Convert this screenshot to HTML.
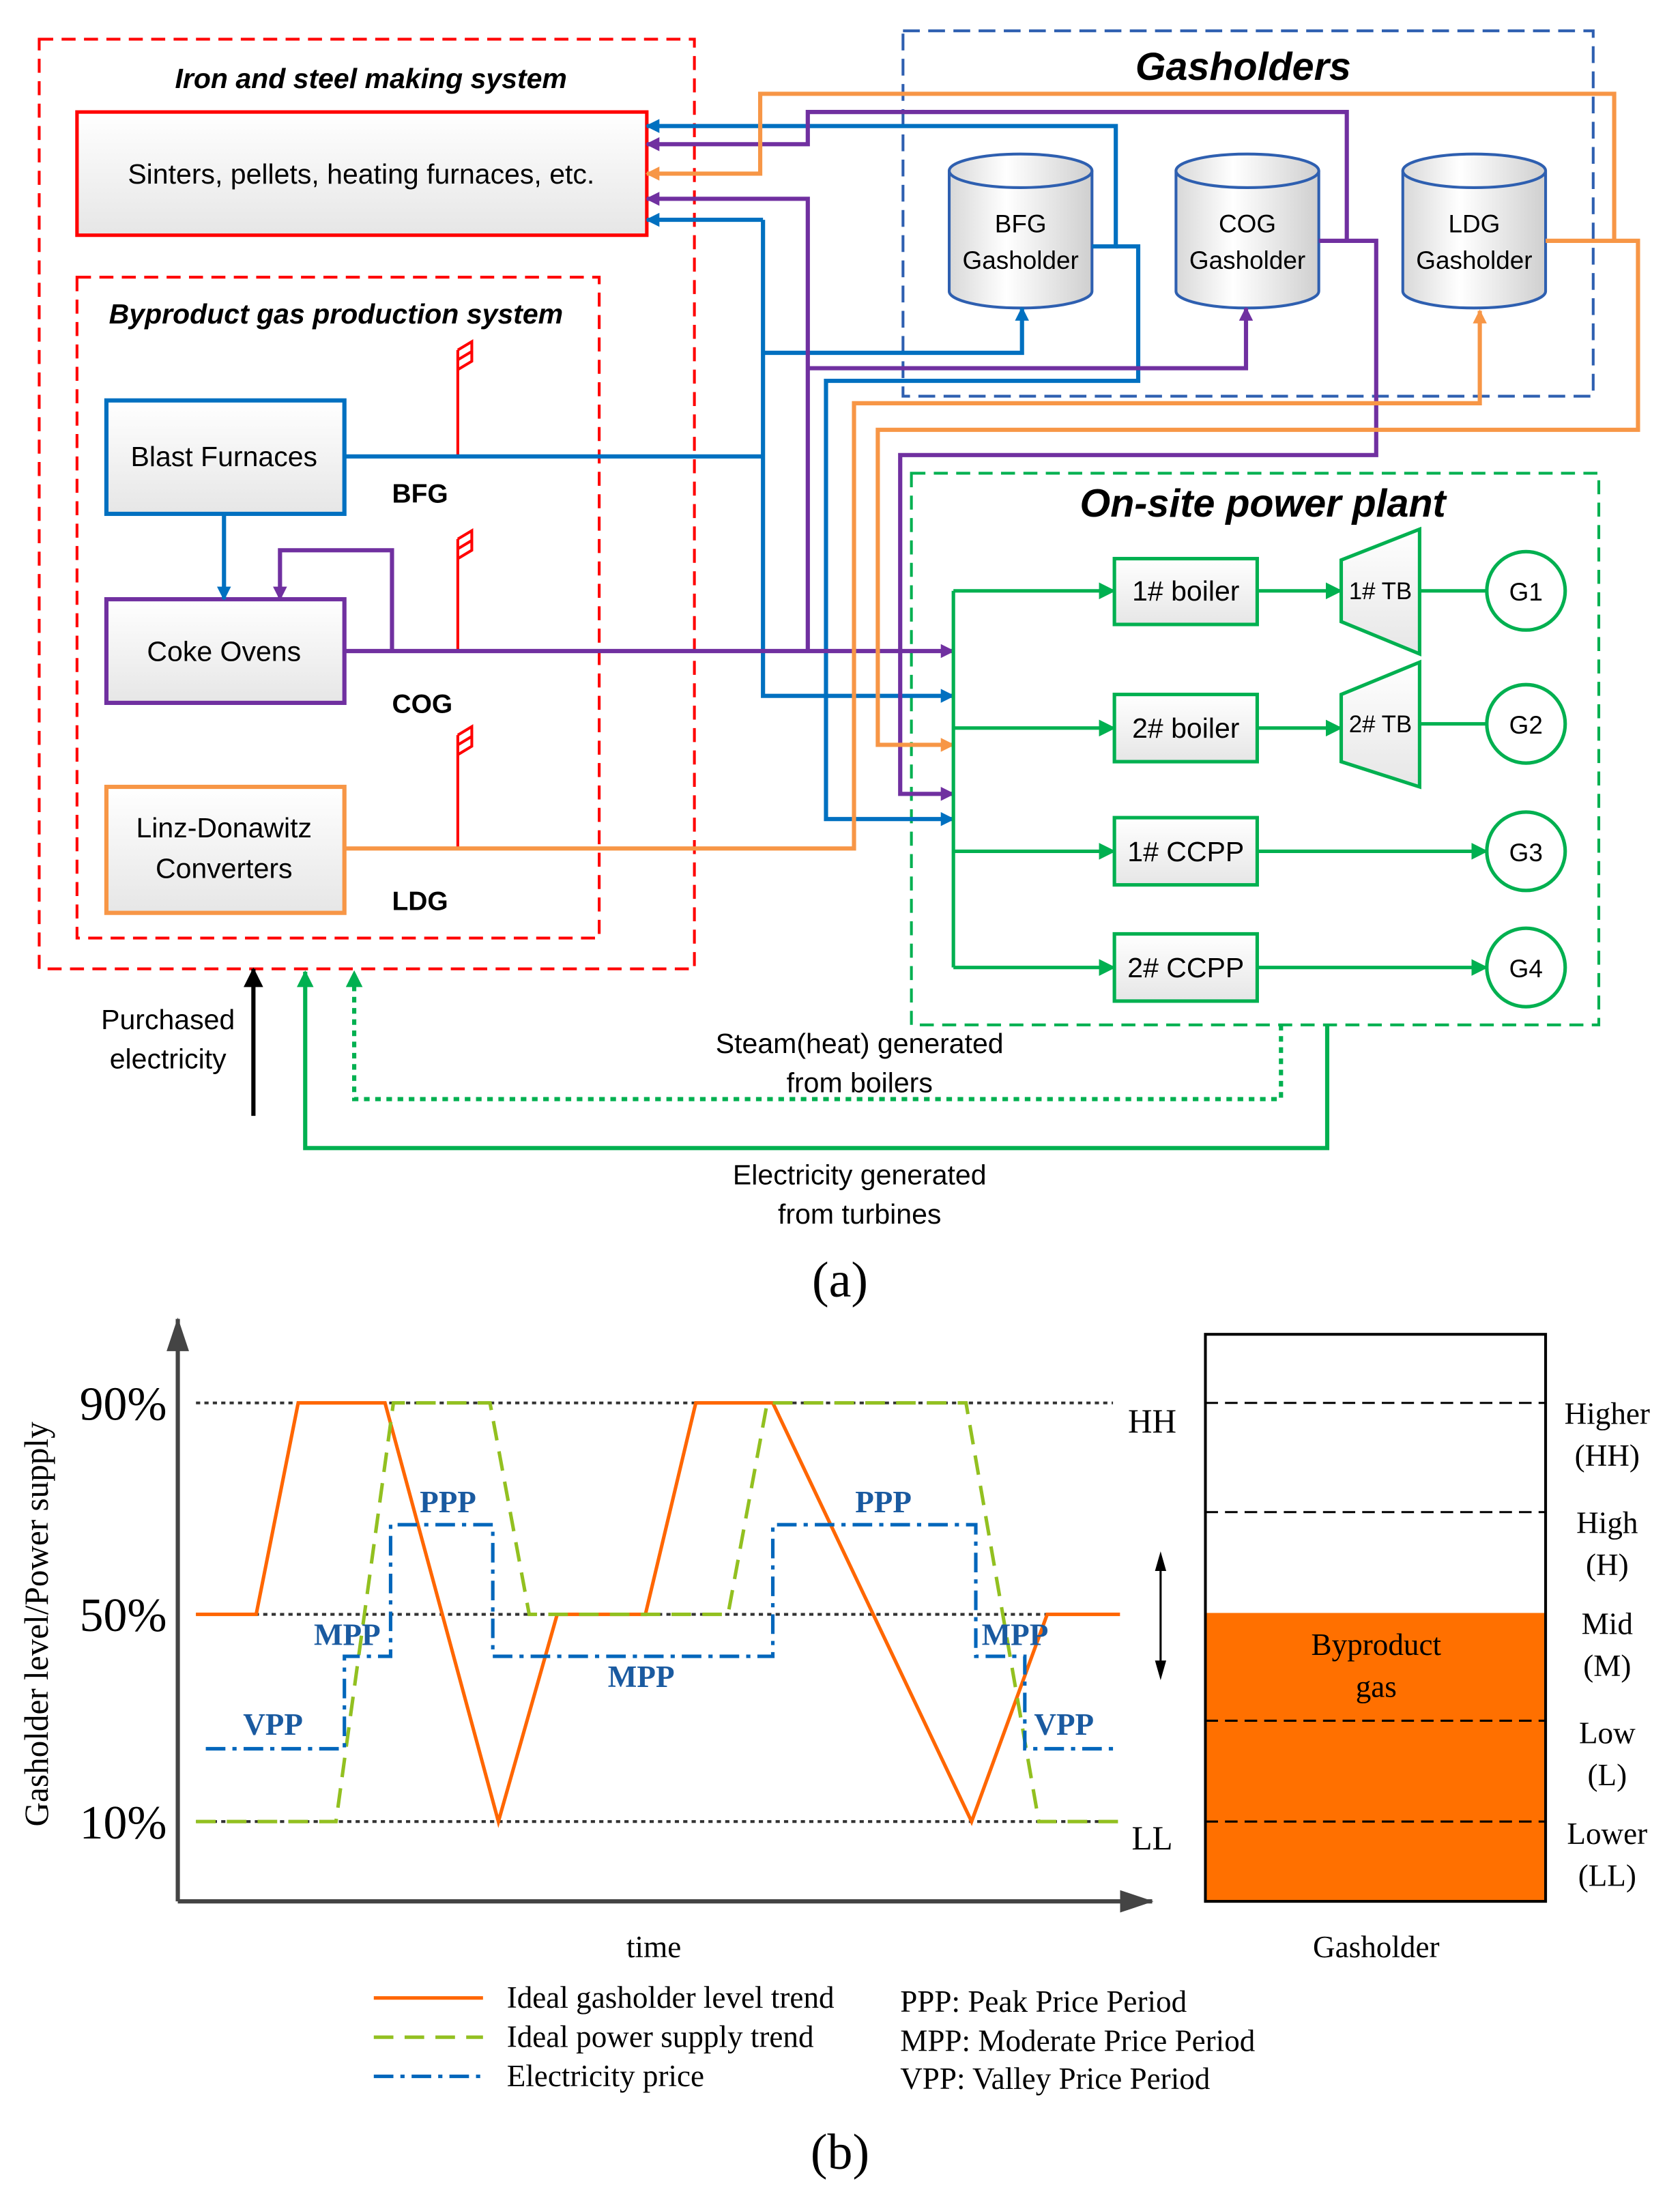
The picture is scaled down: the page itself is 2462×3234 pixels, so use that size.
<!DOCTYPE html>
<html><head><meta charset="utf-8"><style>html,body{margin:0;padding:0;background:#fff}svg{display:block}</style></head><body>
<svg width="2462" height="3234" viewBox="0 0 1200 1576.3" preserveAspectRatio="none" xmlns="http://www.w3.org/2000/svg">
<defs>
<linearGradient id="bx" x1="0" y1="0" x2="0" y2="1"><stop offset="0" stop-color="#fff"/><stop offset="1" stop-color="#e6e6e6"/></linearGradient>
<linearGradient id="cy" x1="0" y1="0" x2="1" y2="0"><stop offset="0" stop-color="#d8d8d8"/><stop offset="0.4" stop-color="#fff"/><stop offset="1" stop-color="#cfcfcf"/></linearGradient>
<marker id="ab" markerWidth="10" markerHeight="10" refX="9" refY="5" orient="auto" markerUnits="userSpaceOnUse"><path d="M0,0 L10,5 L0,10 z" fill="#0070c0"/></marker>
<marker id="ap" markerWidth="10" markerHeight="10" refX="9" refY="5" orient="auto" markerUnits="userSpaceOnUse"><path d="M0,0 L10,5 L0,10 z" fill="#7030a0"/></marker>
<marker id="ao" markerWidth="10" markerHeight="10" refX="9" refY="5" orient="auto" markerUnits="userSpaceOnUse"><path d="M0,0 L10,5 L0,10 z" fill="#f79646"/></marker>
<marker id="ag" markerWidth="12" markerHeight="12" refX="11" refY="6" orient="auto" markerUnits="userSpaceOnUse"><path d="M0,0 L12,6 L0,12 z" fill="#00b050"/></marker>
<marker id="ak" markerWidth="14" markerHeight="14" refX="13" refY="7" orient="auto" markerUnits="userSpaceOnUse"><path d="M0,0 L14,7 L0,14 z" fill="#000"/></marker>
<marker id="ax" markerWidth="24" markerHeight="16" refX="23" refY="8" orient="auto" markerUnits="userSpaceOnUse"><path d="M0,0 L24,8 L0,16 z" fill="#444"/></marker>
</defs>
<g font-family="Liberation Sans, sans-serif" font-size="20" fill="#000">
<!-- containers -->
<rect x="28" y="28" width="468" height="664" fill="none" stroke="#ff0000" stroke-width="2" stroke-dasharray="10,6"/>
<text x="265" y="63" text-anchor="middle" font-weight="bold" font-style="italic">Iron and steel making system</text>
<rect x="55" y="80" width="407" height="88" fill="url(#bx)" stroke="#ff0000" stroke-width="2.5"/>
<text x="258" y="131" text-anchor="middle">Sinters, pellets, heating furnaces, etc.</text>
<rect x="55" y="198" width="373" height="472" fill="none" stroke="#ff0000" stroke-width="2" stroke-dasharray="10,6"/>
<text x="240" y="231" text-anchor="middle" font-weight="bold" font-style="italic">Byproduct gas  production  system</text>
<rect x="76" y="286" width="170" height="81" fill="url(#bx)" stroke="#0070c0" stroke-width="3"/>
<text x="160" y="333" text-anchor="middle">Blast Furnaces</text>
<rect x="76" y="428" width="170" height="74" fill="url(#bx)" stroke="#7030a0" stroke-width="3"/>
<text x="160" y="472" text-anchor="middle">Coke Ovens</text>
<rect x="76" y="562" width="170" height="90" fill="url(#bx)" stroke="#f79646" stroke-width="3"/>
<text x="160" y="598" text-anchor="middle">Linz-Donawitz</text>
<text x="160" y="627" text-anchor="middle">Converters</text>
<rect x="645" y="22" width="493" height="261" fill="none" stroke="#2e5fb0" stroke-width="2" stroke-dasharray="12,6"/>
<text x="888" y="57" text-anchor="middle" font-weight="bold" font-style="italic" font-size="28">Gasholders</text>
<rect x="651" y="338" width="491" height="394" fill="none" stroke="#00b050" stroke-width="2" stroke-dasharray="10,6"/>
<text x="902" y="369" text-anchor="middle" font-weight="bold" font-style="italic" font-size="28">On-site power plant</text>
<!-- cylinders -->
<g stroke="#2e5fb0" stroke-width="2" fill="url(#cy)">
<path d="M678,122 L678,208 A51,12 0 0 0 780,208 L780,122 A51,12 0 0 0 678,122 Z"/><path d="M678,122 A51,12 0 0 0 780,122" fill="none"/>
<path d="M840,122 L840,208 A51,12 0 0 0 942,208 L942,122 A51,12 0 0 0 840,122 Z"/><path d="M840,122 A51,12 0 0 0 942,122" fill="none"/>
<path d="M1002,122 L1002,208 A51,12 0 0 0 1104,208 L1104,122 A51,12 0 0 0 1002,122 Z"/><path d="M1002,122 A51,12 0 0 0 1104,122" fill="none"/>
</g>
<g font-size="18" text-anchor="middle">
<text x="729" y="166">BFG</text><text x="729" y="192">Gasholder</text>
<text x="891" y="166">COG</text><text x="891" y="192">Gasholder</text>
<text x="1053" y="166">LDG</text><text x="1053" y="192">Gasholder</text>
</g>
<!-- flares -->
<g stroke="#ff0000" stroke-width="2" fill="none">
<path d="M327,326 V250 M327,250 L337,244 V258 L327,264 M327,257 L337,251"/>
<path d="M327,465 V385 M327,385 L337,379 V393 L327,399 M327,392 L337,386"/>
<path d="M327,606 V525 M327,525 L337,519 V533 L327,539 M327,532 L337,526"/>
</g>
<g font-weight="bold" font-size="19"><text x="280" y="359">BFG</text><text x="280" y="509">COG</text><text x="280" y="650">LDG</text></g>
<!-- blue -->
<g stroke="#0070c0" stroke-width="3" fill="none">
<path d="M246,326 H545"/><path d="M545,157 V497 H681" marker-end="url(#ab)"/>
<path d="M545,157 H462" marker-end="url(#ab)"/>
<path d="M545,252 H730 V220" marker-end="url(#ab)"/>
<path d="M780,176 H797 V90 H462" marker-end="url(#ab)"/>
<path d="M797,176 H813 V272 H590 V585 H681" marker-end="url(#ab)"/>
<path d="M160,367 V428" marker-end="url(#ab)"/>
</g>
<!-- purple -->
<g stroke="#7030a0" stroke-width="3" fill="none">
<path d="M246,465 H681" marker-end="url(#ap)"/>
<path d="M280,465 V393 H200 V428" marker-end="url(#ap)"/>
<path d="M577,465 V142 H462" marker-end="url(#ap)"/>
<path d="M577,263 H890 V220" marker-end="url(#ap)"/>
<path d="M942,172 H962 V80 H577 V103 H462" marker-end="url(#ap)"/>
<path d="M962,172 H983 V325 H643 V567 H681" marker-end="url(#ap)"/>
</g>
<!-- orange -->
<g stroke="#f79646" stroke-width="3" fill="none">
<path d="M246,606 H610 V288 H1057 V222" marker-end="url(#ao)"/>
<path d="M1104,172 H1170 V307 H627 V532 H681" marker-end="url(#ao)"/>
<path d="M1153,172 V67 H543 V124 H462" marker-end="url(#ao)"/>
</g>
<!-- power plant -->
<g stroke="#00b050" stroke-width="2.5" fill="none">
<path d="M681,422 V691"/>
<path d="M681,422 H796" marker-end="url(#ag)"/><path d="M681,520 H796" marker-end="url(#ag)"/>
<path d="M681,608 H796" marker-end="url(#ag)"/><path d="M681,691 H796" marker-end="url(#ag)"/>
<path d="M898,422 H958" marker-end="url(#ag)"/><path d="M898,520 H958" marker-end="url(#ag)"/>
<path d="M1014,422 H1062"/><path d="M1014,517 H1062"/>
<path d="M898,608 H1062" marker-end="url(#ag)"/><path d="M898,691 H1062" marker-end="url(#ag)"/>
</g>
<g stroke="#00b050" stroke-width="2.5" fill="url(#bx)">
<rect x="796" y="399" width="102" height="47"/><rect x="796" y="496" width="102" height="48"/>
<rect x="796" y="584" width="102" height="48"/><rect x="796" y="667" width="102" height="48"/>
<path d="M958,400 L1014,378 L1014,467 L958,444 Z"/><path d="M958,496 L1014,473 L1014,562 L958,544 Z"/>
<circle cx="1090" cy="422" r="28" fill="#fff"/><circle cx="1090" cy="517" r="28" fill="#fff"/>
<circle cx="1090" cy="608" r="28" fill="#fff"/><circle cx="1090" cy="691" r="28" fill="#fff"/>
</g>
<g text-anchor="middle">
<text x="847" y="429">1# boiler</text><text x="847" y="527">2# boiler</text>
<text x="847" y="615">1# CCPP</text><text x="847" y="698">2# CCPP</text>
<text x="986" y="428" font-size="17">1# TB</text><text x="986" y="523" font-size="17">2# TB</text>
<text x="1090" y="429" font-size="18">G1</text><text x="1090" y="524" font-size="18">G2</text>
<text x="1090" y="615" font-size="18">G3</text><text x="1090" y="698" font-size="18">G4</text>
</g>
<!-- bottom connectors -->
<path d="M181,797 V692" stroke="#000" stroke-width="3" marker-end="url(#ak)"/>
<text x="120" y="735" text-anchor="middle">Purchased</text><text x="120" y="763" text-anchor="middle">electricity</text>
<path d="M915,732 V785 H253 V694" stroke="#00b050" stroke-width="3" stroke-dasharray="4,4" fill="none" marker-end="url(#ag)"/>
<path d="M948,732 V820 H218 V694" stroke="#00b050" stroke-width="3" fill="none" marker-end="url(#ag)"/>
<text x="614" y="752" text-anchor="middle">Steam(heat) generated</text><text x="614" y="780" text-anchor="middle">from boilers</text>
<text x="614" y="846" text-anchor="middle">Electricity generated</text><text x="614" y="874" text-anchor="middle">from turbines</text>
</g>
<g font-family="Liberation Serif, serif" fill="#000">
<text x="600" y="926" text-anchor="middle" font-size="36">(a)</text>
<!-- chart -->
<path d="M127,1358 V942" stroke="#444" stroke-width="3" marker-end="url(#ax)" fill="none"/>
<path d="M127,1358 H823" stroke="#444" stroke-width="3" marker-end="url(#ax)" fill="none"/>
<g stroke="#333" stroke-width="2" stroke-dasharray="3,3"><path d="M140,1002 H795"/><path d="M140,1153 H795"/><path d="M140,1301 H795"/></g>
<g font-size="34" text-anchor="middle"><text x="88" y="1014">90%</text><text x="88" y="1165">50%</text><text x="88" y="1313">10%</text></g>
<text x="823" y="1023" text-anchor="middle" font-size="24">HH</text><text x="823" y="1321" text-anchor="middle" font-size="24">LL</text>
<text transform="translate(34,1160) rotate(-90)" text-anchor="middle" font-size="24">Gasholder level/Power supply</text>
<polyline points="140,1153 183,1153 213,1002 275,1002 356,1301 398,1153 461,1153 497,1002 552,1002 694,1301 748,1153 800,1153" fill="none" stroke="#ff6600" stroke-width="2.5"/>
<polyline points="140,1301 240,1301 281,1002 350,1002 378,1153 520,1153 548,1002 690,1002 742,1301 800,1301" fill="none" stroke="#92c020" stroke-width="2.5" stroke-dasharray="14,8"/>
<polyline points="147,1249 246,1249 246,1183 279,1183 279,1089 352,1089 352,1183 552,1183 552,1089 697,1089 697,1183 732,1183 732,1249 797,1249" fill="none" stroke="#0066bb" stroke-width="2.5" stroke-dasharray="14,5,3,5"/>
<g fill="#1a5aa0" font-weight="bold" font-size="22" text-anchor="middle">
<text x="320" y="1080">PPP</text><text x="631" y="1080">PPP</text>
<text x="248" y="1175">MPP</text><text x="458" y="1205">MPP</text><text x="725" y="1175">MPP</text>
<text x="195" y="1239">VPP</text><text x="760" y="1239">VPP</text>
</g>
<text x="467" y="1398" text-anchor="middle" font-size="22">time</text>
<rect x="861" y="1152" width="243" height="206" fill="#ff7000"/>
<rect x="861" y="953" width="243" height="405" fill="none" stroke="#000" stroke-width="2"/>
<g stroke="#000" stroke-width="1.5" stroke-dasharray="9,5"><path d="M861,1002 H1104"/><path d="M861,1080 H1104"/><path d="M861,1229 H1104"/><path d="M861,1301 H1104"/></g>
<text x="983" y="1182" text-anchor="middle" font-size="22">Byproduct</text><text x="983" y="1212" text-anchor="middle" font-size="22">gas</text>
<g font-size="22" text-anchor="middle">
<text x="1148" y="1017">Higher</text><text x="1148" y="1047">(HH)</text>
<text x="1148" y="1095">High</text><text x="1148" y="1125">(H)</text>
<text x="1148" y="1167">Mid</text><text x="1148" y="1197">(M)</text>
<text x="1148" y="1245">Low</text><text x="1148" y="1275">(L)</text>
<text x="1148" y="1317">Lower</text><text x="1148" y="1347">(LL)</text>
</g>
<path d="M829,1118 V1190" stroke="#000" stroke-width="1.5"/>
<path d="M825,1122 L829,1108 L833,1122 Z M825,1186 L829,1200 L833,1186 Z" fill="#000"/>
<text x="983" y="1398" text-anchor="middle" font-size="22">Gasholder</text>
<path d="M267,1427 H345" stroke="#ff6600" stroke-width="2.5"/>
<path d="M267,1455 H345" stroke="#92c020" stroke-width="2.5" stroke-dasharray="14,8"/>
<path d="M267,1483 H345" stroke="#0066bb" stroke-width="2.5" stroke-dasharray="14,5,3,5"/>
<g font-size="22"><text x="362" y="1434">Ideal gasholder level trend</text><text x="362" y="1462">Ideal power supply trend</text><text x="362" y="1490">Electricity price</text>
<text x="643" y="1437">PPP:  Peak Price Period</text><text x="643" y="1465">MPP:  Moderate Price Period</text><text x="643" y="1492">VPP:  Valley Price Period</text></g>
<text x="600" y="1549" text-anchor="middle" font-size="36">(b)</text>
</g>
</svg>
</body></html>
